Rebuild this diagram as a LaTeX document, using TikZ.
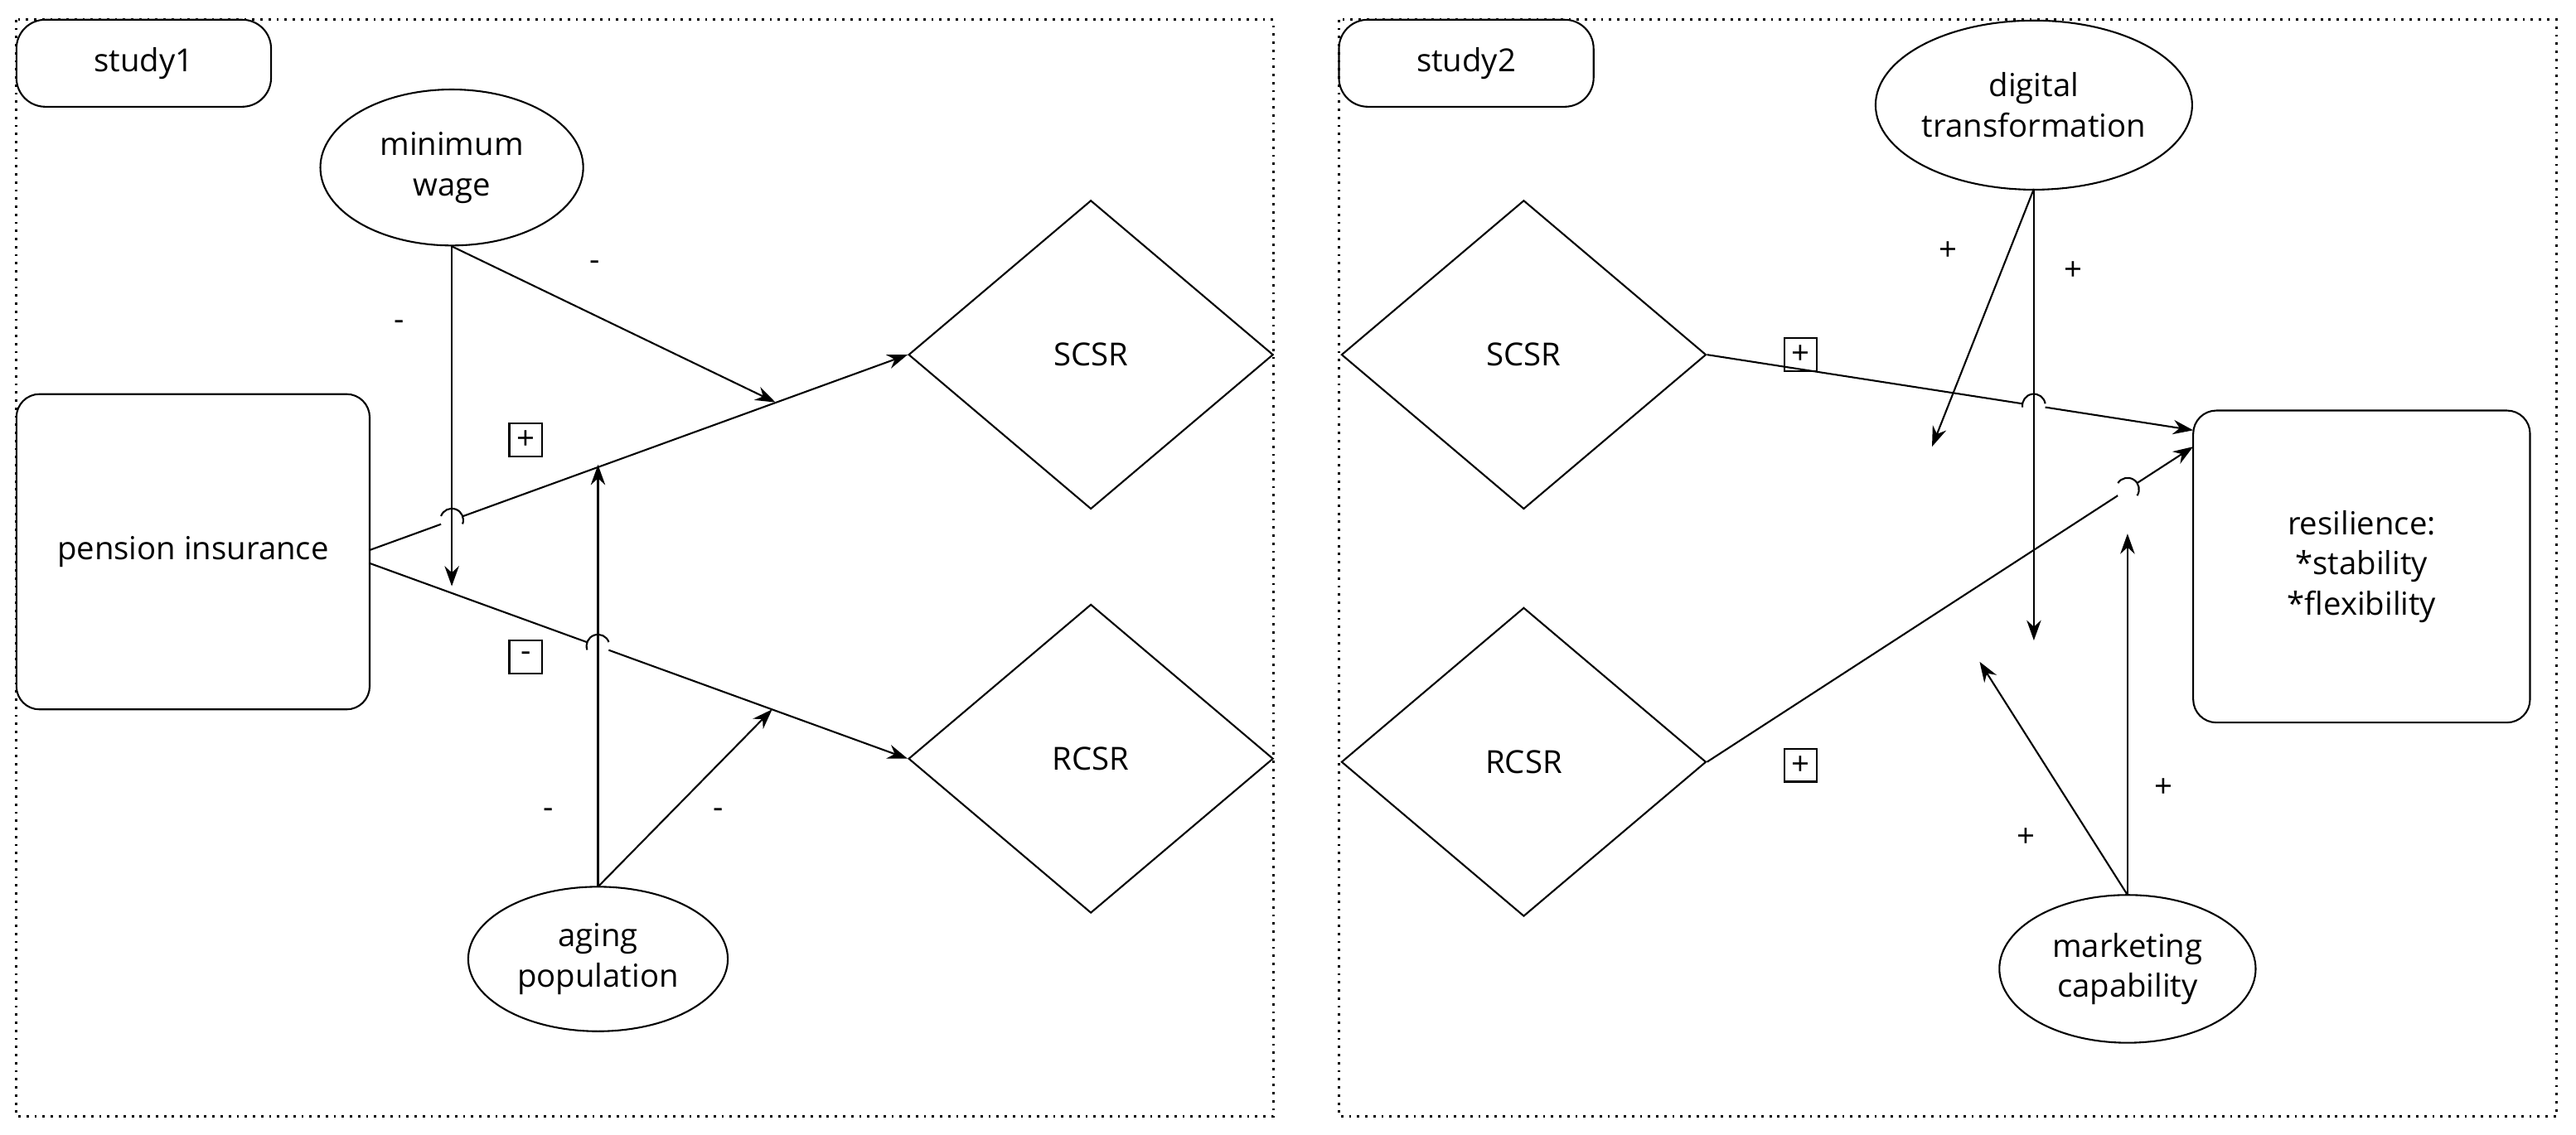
\documentclass[tikz,border=0pt]{standalone}
\usepackage{fontspec}
\setmainfont{Open Sans}
\usetikzlibrary{shapes.geometric,arrows.meta}
\begin{document}
\begin{tikzpicture}[x=0.2mm,y=-0.2mm,font=\fontsize{11}{14}\selectfont,
  ln/.style={line width=0.6pt},
  ar/.style={ln,-{Stealth[length=7pt,width=5pt]}},
  frame/.style={dotted,line width=0.8pt},
  ell/.style={ellipse,draw,line width=0.6pt,inner sep=0,align=center},
  dia/.style={diamond,draw,line width=0.6pt,inner sep=0,minimum width=44.4mm,minimum height=37.6mm,aspect=1.18},
  rbox/.style={draw,rounded corners=8pt,line width=0.6pt,align=center,inner sep=0},
  sbox/.style={draw,line width=0.6pt,inner sep=2pt,minimum size=4mm},
  lab/.style={inner sep=1pt}]
\useasboundingbox (0,0) rectangle (1568,691);
\newcommand{\hop}[2]{\begin{scope}[shift={(#1)},rotate=#2]\fill[white](0,0) circle(7);\draw[ln](-7,0) arc(180:360:7);\end{scope}}
% frames
\draw[frame] (10,12) rectangle (775,680);
\draw[frame] (815,12) rectangle (1556,680);
% ---------- study1
\node[rbox,minimum width=31mm,minimum height=10.6mm,rounded corners=10pt] (s1) at (87.5,38.5) {study1};
\node[ell,minimum width=32mm,minimum height=19mm] (mw) at (275,102) {minimum\\wage};
\node[rbox,minimum width=43mm,minimum height=38.4mm] (pi) at (117.5,336) {pension insurance};
\node[dia] (scsr1) at (664,216) {SCSR};
\node[dia] (rcsr1) at (664,462) {RCSR};
\node[ell,minimum width=31.6mm,minimum height=17.6mm] (ap) at (364,584) {aging\\population};
\coordinate (p1) at (225,335);
\coordinate (p2) at (225,343);
\coordinate (m1) at (275,150);
\coordinate (m2) at (275,357);
\coordinate (m3) at (472,245);
\coordinate (a1) at (364,540);
\coordinate (a2) at (364,283);
\coordinate (a3) at (470,432);
\draw[ar] (p1) -- (scsr1.west);
\draw[ar] (p2) -- (rcsr1.west);
\hop{275,316.7}{-20.1}
\hop{364,393.4}{19.9}
\draw[ar] (m1) -- (m2);
\draw[ar] (m1) -- (m3);
\draw[ar] (a1) -- (a2);
\draw[ar] (a1) -- (a3);
\node[lab] (l1) at (362,162) {-};
\node[lab] (l2) at (243,198) {-};
\node[sbox] (l3) at (320,268) {+};
\node[sbox] (l4) at (320,400) {-};
\node[lab] (l5) at (334,495) {-};
\node[lab] (l6) at (437,495) {-};
% ---------- study2
\node[rbox,minimum width=31mm,minimum height=10.6mm,rounded corners=10pt] (s2) at (892.5,38.5) {study2};
\node[ell,minimum width=30.2mm,minimum height=20.6mm] (dt) at (1238,64) {digital\\transformation};
\node[dia] (scsr2) at (927.5,216) {SCSR};
\node[dia] (rcsr2) at (927.5,464) {RCSR};
\node[rbox,minimum width=41mm,minimum height=38mm] (res) at (1437.5,345) {resilience:\\*stability\\*flexibility};
\node[ell,minimum width=31.2mm,minimum height=18mm] (mc) at (1295,590) {marketing\\capability};
\coordinate (r1) at (1335,262);
\coordinate (r2) at (1335,272);
\coordinate (d1) at (1238,115);
\coordinate (d2) at (1176,272);
\coordinate (d3) at (1238,390);
\coordinate (k1) at (1295,545);
\coordinate (k2) at (1295,325);
\coordinate (k3) at (1205,403);
\draw[ar] (scsr2.east) -- (r1);
\draw[ar] (rcsr2.east) -- (r2);
\hop{1238,246.9}{8.9}
\hop{1295,298}{-33.1}
\draw[ar] (d1) -- (d2);
\draw[ar] (d1) -- (d3);
\draw[ar] (k1) -- (k2);
\draw[ar] (k1) -- (k3);
\node[sbox] (q1) at (1096,216) {+};
\node[lab] (q2) at (1186,153) {+};
\node[lab] (q3) at (1262,165) {+};
\node[sbox] (q4) at (1096,466) {+};
\node[lab] (q5) at (1233,510) {+};
\node[lab] (q6) at (1317,480) {+};
\end{tikzpicture}
\end{document}
